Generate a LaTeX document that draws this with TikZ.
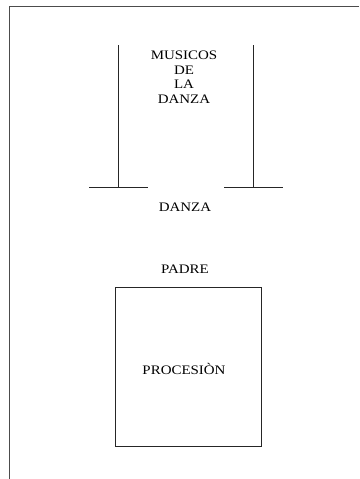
\documentclass[tikz,border=0pt]{standalone}
\usepackage{fontspec}
\setmainfont{Liberation Serif}
\usepackage{graphicx}
\begin{document}
\begin{tikzpicture}[x=1pt,y=-1pt,
  rule/.style={line width=0.9pt,draw=black!85},
  caption/.style={inner sep=0pt,align=center,font=\fontsize{13}{15}\selectfont},
  wide/.style={execute at begin node={\scalebox{1.15}[1]\bgroup},execute at end node={\egroup}}]
\useasboundingbox (0,0) rectangle (359,479);
% page frame (top and left edges)
\draw[rule,draw=black!70] (359,6) -- (9,6) -- (9,479);
% left post with its base
\coordinate (lt) at (118,45);
\coordinate (lb) at (118,187);
\coordinate (ll) at (89,187);
\coordinate (lr) at (148,187);
\draw[rule] (lt) -- (lb);
\draw[rule] (ll) -- (lr);
% right post with its base
\coordinate (rt) at (253,45);
\coordinate (rb) at (253,187);
\coordinate (rl) at (224,187);
\coordinate (rr) at (283,187);
\draw[rule] (rt) -- (rb);
\draw[rule] (rl) -- (rr);
% labels
\node[caption] (musicos) at (184,77) {\scalebox{1.15}[1]{MUSICOS}\\[-0.5pt]\scalebox{1.15}[1]{DE}\\[-0.5pt]\scalebox{1.15}[1]{LA}\\[-0.5pt]\scalebox{1.15}[1]{DANZA}};
\node[caption] (danza) at (185,207) {\scalebox{1.15}[1]{DANZA}};
\node[caption] (padre) at (185,269) {\scalebox{1.15}[1]{PADRE}};
% procession box
\node[rule,draw,minimum width=146pt,minimum height=159pt,inner sep=0pt] (box) at (188,366.5) {};
\node[caption] (procesion) at (184,369) {\scalebox{1.15}[1]{PROCESIÒN}};
\end{tikzpicture}
\end{document}
